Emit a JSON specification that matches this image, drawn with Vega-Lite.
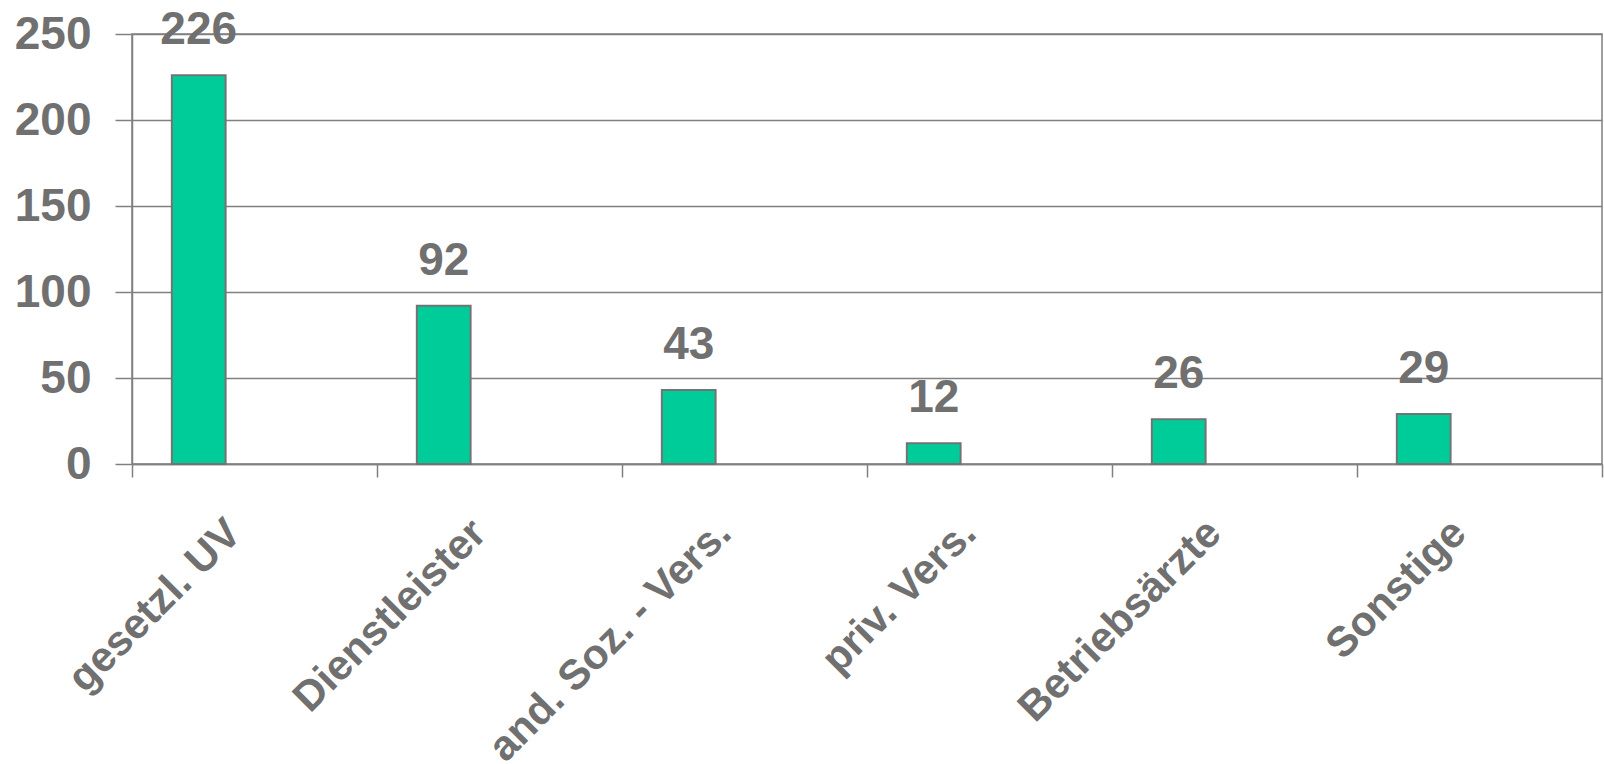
{
  "$schema": "https://vega.github.io/schema/vega-lite/v6.json",
  "width": 1470,
  "height": 430,
  "autosize": {"type": "none"},
  "padding": {"left": 132, "top": 34, "right": 2, "bottom": 300},
  "background": "white",
  "config": {
    "view": {"stroke": "#808080", "strokeWidth": 1.5},
    "font": "Liberation Sans"
  },
  "data": {
    "values": [
      {"kategorie": "gesetzl. UV", "anzahl": 226, "serie": "Anzahl"},
      {"kategorie": "Dienstleister", "anzahl": 92, "serie": "Anzahl"},
      {"kategorie": "and. Soz. - Vers.", "anzahl": 43, "serie": "Anzahl"},
      {"kategorie": "priv. Vers.", "anzahl": 12, "serie": "Anzahl"},
      {"kategorie": "Betriebsärzte", "anzahl": 26, "serie": "Anzahl"},
      {"kategorie": "Sonstige", "anzahl": 29, "serie": "Anzahl"}
    ]
  },
  "encoding": {
    "x": {
      "field": "kategorie",
      "type": "nominal",
      "sort": null,
      "scale": {"paddingInner": 0, "paddingOuter": 0},
      "axis": {
        "title": null,
        "labelAngle": -45,
        "labelAlign": "right",
        "labelBaseline": "middle",
        "tickBand": "extent",
        "tickSize": 13,
        "tickColor": "#808080",
        "tickWidth": 1.5,
        "domainColor": "#808080",
        "domainWidth": 1.5,
        "labelPadding": 49,
        "labelOffset": -21,
        "labelFontSize": 42,
        "labelFontWeight": "bold",
        "labelColor": "#707070",
        "labelFont": "Liberation Sans",
        "labelOverlap": false,
        "labelLimit": 0
      }
    },
    "xOffset": {
      "field": "serie",
      "type": "nominal",
      "scale": {"domain": ["Anzahl", "leer"], "paddingInner": 0.518, "paddingOuter": 0.357}
    },
    "y": {
      "field": "anzahl",
      "type": "quantitative",
      "scale": {"domain": [0, 250], "nice": false},
      "axis": {
        "title": null,
        "values": [0, 50, 100, 150, 200, 250],
        "grid": true,
        "gridColor": "#808080",
        "gridWidth": 1.5,
        "tickColor": "#808080",
        "tickWidth": 1.5,
        "tickSize": 17,
        "domainColor": "#808080",
        "domainWidth": 1.5,
        "labelFontSize": 46,
        "labelFontWeight": "bold",
        "labelColor": "#707070",
        "labelFont": "Liberation Sans",
        "labelPadding": 24
      }
    }
  },
  "layer": [
    {"mark": {"type": "bar", "fill": "#00CC99", "stroke": "#737373", "strokeWidth": 2}},
    {
      "mark": {"type": "text", "baseline": "alphabetic", "dy": -31, "fontSize": 46, "fontWeight": "bold", "color": "#707070", "font": "Liberation Sans"},
      "encoding": {"text": {"field": "anzahl", "type": "quantitative"}}
    }
  ]
}
